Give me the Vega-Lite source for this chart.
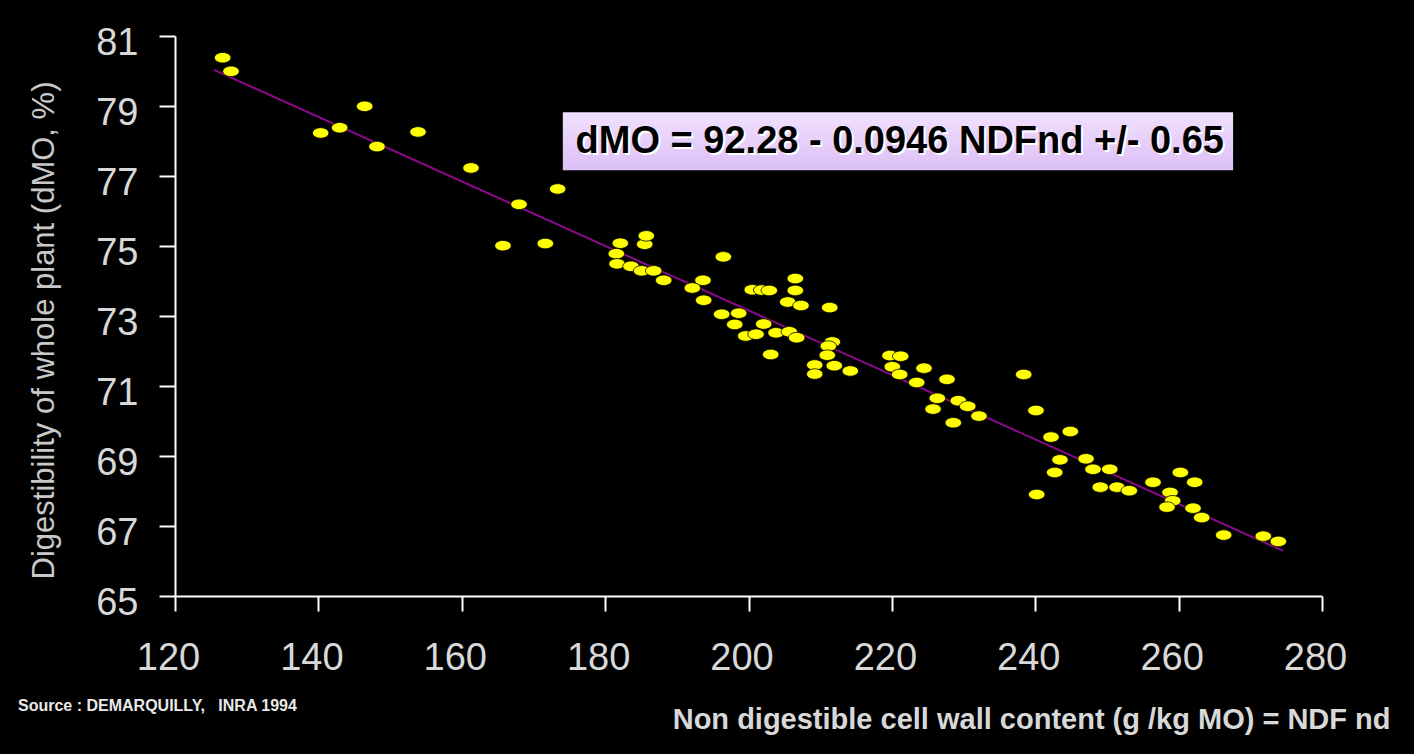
{
  "$schema": "https://vega.github.io/schema/vega-lite/v6.json",
  "width": 1147,
  "height": 560,
  "autosize": {"type": "none"},
  "padding": {"left": 175, "top": 36, "right": 92, "bottom": 158},
  "background": "#000000",
  "config": {"view": {"stroke": null}, "font": "Liberation Sans"},
  "title": {
    "text": "Source : DEMARQUILLY,\u00a0\u00a0\u00a0INRA 1994",
    "orient": "bottom",
    "anchor": "start",
    "frame": "group",
    "dx": -157,
    "offset": -36,
    "fontSize": 16,
    "fontWeight": "bold",
    "color": "#e8e8e8",
    "font": "Liberation Sans"
  },
  "datasets": {
    "pts": [
      {"ndf": 126.65, "dmo": 80.38}, {"ndf": 127.81, "dmo": 79.99}, {"ndf": 146.46, "dmo": 78.99},
      {"ndf": 140.32, "dmo": 78.23}, {"ndf": 142.97, "dmo": 78.38}, {"ndf": 153.9, "dmo": 78.26},
      {"ndf": 148.18, "dmo": 77.84}, {"ndf": 161.29, "dmo": 77.23}, {"ndf": 173.38, "dmo": 76.63},
      {"ndf": 167.99, "dmo": 76.19}, {"ndf": 165.75, "dmo": 75.01}, {"ndf": 171.66, "dmo": 75.07},
      {"ndf": 182.12, "dmo": 75.08}, {"ndf": 185.52, "dmo": 75.05}, {"ndf": 185.74, "dmo": 75.29},
      {"ndf": 181.56, "dmo": 74.78}, {"ndf": 181.66, "dmo": 74.49}, {"ndf": 183.61, "dmo": 74.42},
      {"ndf": 185.1, "dmo": 74.29}, {"ndf": 186.78, "dmo": 74.29}, {"ndf": 188.17, "dmo": 74.02},
      {"ndf": 196.49, "dmo": 74.69}, {"ndf": 193.65, "dmo": 74.02}, {"ndf": 192.16, "dmo": 73.8},
      {"ndf": 193.75, "dmo": 73.45}, {"ndf": 200.53, "dmo": 73.75}, {"ndf": 201.84, "dmo": 73.74},
      {"ndf": 202.9, "dmo": 73.73}, {"ndf": 206.53, "dmo": 74.07}, {"ndf": 206.53, "dmo": 73.73},
      {"ndf": 205.47, "dmo": 73.4}, {"ndf": 207.32, "dmo": 73.3}, {"ndf": 211.33, "dmo": 73.24},
      {"ndf": 196.26, "dmo": 73.05}, {"ndf": 198.63, "dmo": 73.08}, {"ndf": 198.08, "dmo": 72.76},
      {"ndf": 202.12, "dmo": 72.77}, {"ndf": 199.61, "dmo": 72.43}, {"ndf": 201.05, "dmo": 72.48},
      {"ndf": 203.84, "dmo": 72.52}, {"ndf": 205.69, "dmo": 72.55}, {"ndf": 206.72, "dmo": 72.38},
      {"ndf": 211.69, "dmo": 72.26}, {"ndf": 211.13, "dmo": 72.14}, {"ndf": 210.99, "dmo": 71.88},
      {"ndf": 203.1, "dmo": 71.9}, {"ndf": 209.24, "dmo": 71.6}, {"ndf": 209.24, "dmo": 71.34},
      {"ndf": 211.97, "dmo": 71.58}, {"ndf": 214.2, "dmo": 71.43},
      {"ndf": 219.74, "dmo": 71.87}, {"ndf": 221.23, "dmo": 71.85}, {"ndf": 220.06, "dmo": 71.55},
      {"ndf": 221.09, "dmo": 71.33}, {"ndf": 224.48, "dmo": 71.51}, {"ndf": 223.46, "dmo": 71.1},
      {"ndf": 227.69, "dmo": 71.19}, {"ndf": 226.34, "dmo": 70.65}, {"ndf": 225.74, "dmo": 70.34},
      {"ndf": 229.27, "dmo": 70.58}, {"ndf": 230.58, "dmo": 70.42}, {"ndf": 232.15, "dmo": 70.14},
      {"ndf": 228.57, "dmo": 69.95}, {"ndf": 238.39, "dmo": 71.33}, {"ndf": 240.1, "dmo": 70.3},
      {"ndf": 242.2, "dmo": 69.54}, {"ndf": 244.89, "dmo": 69.7},
      {"ndf": 243.45, "dmo": 68.89}, {"ndf": 242.71, "dmo": 68.53}, {"ndf": 240.2, "dmo": 67.9},
      {"ndf": 247.08, "dmo": 68.92}, {"ndf": 248.06, "dmo": 68.62}, {"ndf": 250.39, "dmo": 68.62},
      {"ndf": 249.07, "dmo": 68.11}, {"ndf": 251.4, "dmo": 68.11}, {"ndf": 253.12, "dmo": 68.01},
      {"ndf": 256.43, "dmo": 68.25}, {"ndf": 260.24, "dmo": 68.53}, {"ndf": 262.24, "dmo": 68.25},
      {"ndf": 258.8, "dmo": 67.96}, {"ndf": 259.17, "dmo": 67.72}, {"ndf": 258.38, "dmo": 67.54},
      {"ndf": 262.01, "dmo": 67.51}, {"ndf": 263.22, "dmo": 67.24}, {"ndf": 266.29, "dmo": 66.74},
      {"ndf": 271.81, "dmo": 66.71}, {"ndf": 273.91, "dmo": 66.56}
    ],
    "fit": [{"ndf": 125.44, "dmo": 80.03}, {"ndf": 274.56, "dmo": 66.29}],
    "box": [{"ndf": 174.1, "ndf2": 267.6, "dmo": 78.82, "dmo2": 77.165}],
    "eq": [{"ndf": 221.1, "dmo": 77.98, "label": "dMO = 92.28 - 0.0946 NDFnd +/- 0.65"}]
  },
  "encoding": {
    "x": {
      "field": "ndf",
      "type": "quantitative",
      "scale": {"domain": [120, 280], "nice": false, "zero": false},
      "axis": {
        "title": "Non digestible cell wall content (g /kg MO) = NDF nd",
        "values": [120, 140, 160, 180, 200, 220, 240, 260, 280],
        "grid": false,
        "domainColor": "#ffffff",
        "domainWidth": 2,
        "tickColor": "#ffffff",
        "tickWidth": 2,
        "tickSize": 15,
        "labelFontSize": 38,
        "labelColor": "#d8d8d8",
        "labelFont": "Liberation Sans",
        "labelPadding": 28,
        "labelFlush": false,
        "labelOffset": -7,
        "titleFont": "Liberation Sans",
        "titleFontSize": 29,
        "titleFontWeight": "bold",
        "titleColor": "#d8d8d8",
        "titleX": 1215,
        "titleY": 132,
        "titleAlign": "right",
        "titleBaseline": "alphabetic"
      }
    },
    "y": {
      "field": "dmo",
      "type": "quantitative",
      "scale": {"domain": [65, 81], "nice": false, "zero": false},
      "axis": {
        "title": "Digestibility of whole plant (dMO, %)",
        "values": [65, 67, 69, 71, 73, 75, 77, 79, 81],
        "grid": false,
        "domainColor": "#ffffff",
        "domainWidth": 2,
        "tickColor": "#ffffff",
        "tickWidth": 2,
        "tickSize": 16,
        "labelFontSize": 38,
        "labelColor": "#d8d8d8",
        "labelFont": "Liberation Sans",
        "labelPadding": 21,
        "labelFlush": false,
        "labelOffset": 7,
        "titleFont": "Liberation Sans",
        "titleFontSize": 31,
        "titleFontWeight": "normal",
        "titleColor": "#c8c8c8",
        "titleX": -122,
        "titleY": 294,
        "titleAngle": 270,
        "titleAlign": "center",
        "titleBaseline": "alphabetic"
      }
    }
  },
  "layer": [
    {
      "data": {"name": "fit"},
      "mark": {"type": "line", "color": "#8a0a8a", "strokeWidth": 2},
      "encoding": {}
    },
    {
      "data": {"name": "pts"},
      "mark": {
        "type": "point",
        "shape": "M-1,0A1,0.64,0,1,1,1,0A1,0.64,0,1,1,-1,0Z",
        "filled": true,
        "color": "#ffff00",
        "opacity": 1,
        "size": 270,
        "stroke": "#000000",
        "strokeWidth": 0.8
      },
      "encoding": {}
    },
    {
      "data": {"name": "box"},
      "mark": {
        "type": "rect",
        "color": {
          "gradient": "linear",
          "x1": 0, "y1": 0, "x2": 0, "y2": 1,
          "stops": [{"offset": 0, "color": "#f1e0fe"}, {"offset": 1, "color": "#dcc0f6"}]
        }
      },
      "encoding": {
        "x2": {"field": "ndf2"},
        "y2": {"field": "dmo2"}
      }
    },
    {
      "data": {"name": "eq"},
      "mark": {"type": "text", "font": "Liberation Sans", "fontSize": 38, "fontWeight": "bold", "color": "#ffffff", "dx": 2, "dy": 2, "baseline": "middle", "align": "center"},
      "encoding": {"text": {"field": "label"}}
    },
    {
      "data": {"name": "eq"},
      "mark": {"type": "text", "font": "Liberation Sans", "fontSize": 38, "fontWeight": "bold", "color": "#000000", "baseline": "middle", "align": "center"},
      "encoding": {"text": {"field": "label"}}
    }
  ]
}
